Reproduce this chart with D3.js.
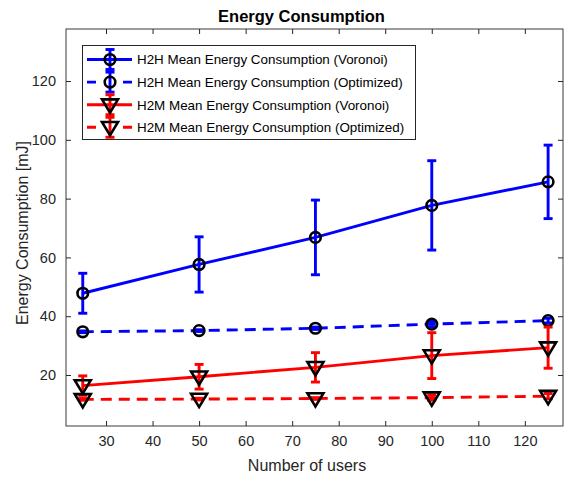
<!DOCTYPE html>
<html><head><meta charset="utf-8">
<script src="https://cdn.jsdelivr.net/npm/d3@7"></script>
<style>body{margin:0;background:#fff}svg{display:block}text{font-family:"Liberation Sans",Arial,Helvetica,sans-serif}</style>
</head><body>
<svg id="c" width="565" height="477"></svg>
<script>
const users = [25, 50, 75, 100, 125];
const h2hVoronoi = [47.8, 57.6, 66.8, 77.7, 85.7];
const h2hVoronoiErr = [6.8, 9.4, 12.7, 15.2, 12.5];
const h2hOptimized = [34.7, 35.1, 35.9, 37.3, 38.5];
const h2hOptimizedErr = [0.3, 0.3, 0.4, 0.9, 0.8];
const h2mVoronoi = [16.4, 19.4, 22.6, 26.6, 29.3];
const h2mVoronoiErr = [3.3, 4.2, 5.0, 7.8, 7.0];
const h2mOptimized = [11.7, 11.8, 12.0, 12.3, 12.8];
const h2mOptimizedErr = [0.3, 0.3, 0.3, 0.9, 0.9];
const xTicks = [30, 40, 50, 60, 70, 80, 90, 100, 110, 120];
const yTicks = [20, 40, 60, 80, 100, 120];
const seriesNames = [
  "H2H Mean Energy Consumption (Voronoi)",
  "H2H Mean Energy Consumption (Optimized)",
  "H2M Mean Energy Consumption (Voronoi)",
  "H2M Mean Energy Consumption (Optimized)"
];

const series = [
  {name: seriesNames[0], vals: h2hVoronoi, err: h2hVoronoiErr, color: "#0000ff", dash: null, marker: "circle"},
  {name: seriesNames[1], vals: h2hOptimized, err: h2hOptimizedErr, color: "#0000ff", dash: "11,7", marker: "circle"},
  {name: seriesNames[2], vals: h2mVoronoi, err: h2mVoronoiErr, color: "#ff0000", dash: null, marker: "tri"},
  {name: seriesNames[3], vals: h2mOptimized, err: h2mOptimizedErr, color: "#ff0000", dash: "11,7", marker: "tri"}
];

const L = 66, R = 563, T = 29, B = 426;
const x = d3.scaleLinear().domain([21.4, 128.2]).range([L, R]);
const y = d3.scaleLinear().domain([2.65, 137.7]).range([B, T]);
const svg = d3.select("#c");
const axisColor = "#262626";
const lw = 2.9;

svg.append("rect").attr("x", L).attr("y", T).attr("width", R - L).attr("height", B - T)
  .attr("fill", "#fff").attr("stroke", "#3a3a3a").attr("stroke-width", 1);

const tk = 5;
const gx = svg.append("g").attr("transform", `translate(0,${B})`)
  .call(d3.axisBottom(x).tickValues(xTicks).tickSizeInner(-tk).tickSizeOuter(0).tickPadding(10));
const gxt = svg.append("g").attr("transform", `translate(0,${T})`)
  .call(d3.axisTop(x).tickValues(xTicks).tickSizeInner(-tk).tickSizeOuter(0).tickFormat(""));
const gy = svg.append("g").attr("transform", `translate(${L},0)`)
  .call(d3.axisLeft(y).tickValues(yTicks).tickSizeInner(-tk).tickSizeOuter(0).tickPadding(10));
const gyr = svg.append("g").attr("transform", `translate(${R},0)`)
  .call(d3.axisRight(y).tickValues(yTicks).tickSizeInner(-tk).tickSizeOuter(0).tickFormat(""));
[gx, gxt, gy, gyr].forEach(g => {
  g.select(".domain").remove();
  g.selectAll(".tick line").attr("stroke", axisColor).attr("stroke-width", 1);
  g.selectAll(".tick text").attr("fill", axisColor).style("font-size", "14.5px");
});

const triPath = "M-8,-5.3L8,-5.3L0,8Z";
const capW = 4.5;

function drawErrbar(g, cx, y0, y1, color) {
  g.append("line").attr("x1", cx).attr("x2", cx).attr("y1", y0).attr("y2", y1)
    .attr("stroke", color).attr("stroke-width", lw);
  [y0, y1].forEach(yy => g.append("line").attr("x1", cx - capW).attr("x2", cx + capW)
    .attr("y1", yy).attr("y2", yy).attr("stroke", color).attr("stroke-width", lw));
}
function drawMarker(g, cx, cy, type) {
  if (type === "circle") {
    g.append("circle").attr("cx", cx).attr("cy", cy).attr("r", 5.3)
      .attr("fill", "none").attr("stroke", "#000").attr("stroke-width", 2.6);
  } else {
    g.append("path").attr("d", triPath).attr("transform", `translate(${cx},${cy})`)
      .attr("fill", "none").attr("stroke", "#000").attr("stroke-width", 2.6).attr("stroke-linejoin", "miter");
  }
}

const line = d3.line().x(d => x(d[0])).y(d => y(d[1]));
series.forEach(s => {
  const g = svg.append("g");
  const pts = users.map((u, i) => [u, s.vals[i]]);
  g.append("path").attr("d", line(pts)).attr("fill", "none").attr("stroke", s.color)
    .attr("stroke-width", lw).attr("stroke-dasharray", s.dash);
  users.forEach((u, i) => drawErrbar(g, x(u), y(s.vals[i] + s.err[i]), y(s.vals[i] - s.err[i]), s.color));
  users.forEach((u, i) => drawMarker(g, x(u), y(s.vals[i]), s.marker));
});

// legend
const lg = svg.append("g");
lg.append("rect").attr("x", 82.5).attr("y", 45.5).attr("width", 333).attr("height", 94)
  .attr("fill", "#fff").attr("stroke", "#262626").attr("stroke-width", 1);
series.forEach((s, i) => {
  const cy = 59.5 + i * 22.6;
  lg.append("line").attr("x1", 87).attr("x2", 132).attr("y1", cy).attr("y2", cy)
    .attr("stroke", s.color).attr("stroke-width", lw).attr("stroke-dasharray", s.dash ? "9,27" : null);
  drawErrbar(lg, 110, cy - 10, cy + 10, s.color);
  drawMarker(lg, 110, cy, s.marker);
  lg.append("text").attr("x", 137).attr("y", cy + 4.8).text(s.name)
    .style("font-size", "13.4px").attr("fill", "#000");
});

// labels
svg.append("text").attr("x", 301.5).attr("y", 22).attr("text-anchor", "middle")
  .style("font-size", "16.5px").style("font-weight", "bold").attr("fill", "#000").text("Energy Consumption");
svg.append("text").attr("x", 307).attr("y", 470.5).attr("text-anchor", "middle")
  .style("font-size", "16px").attr("fill", axisColor).text("Number of users");
svg.append("text").attr("transform", "translate(28,233) rotate(-90)").attr("text-anchor", "middle")
  .style("font-size", "16px").attr("fill", axisColor).text("Energy Consumption [mJ]");
</script>
</body></html>
